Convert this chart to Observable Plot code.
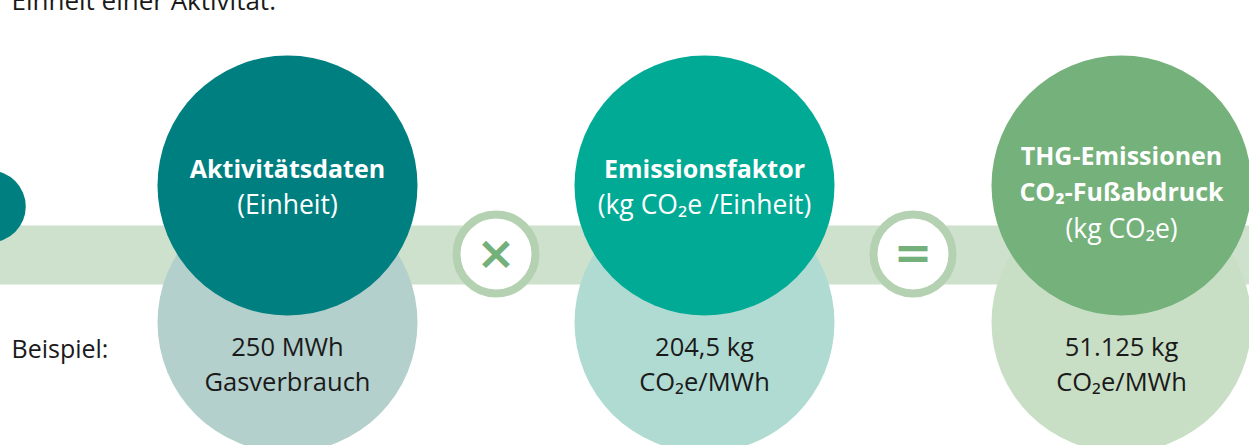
<!DOCTYPE html>
<html><head><meta charset="utf-8">
<script src="https://cdn.jsdelivr.net/npm/d3@7"></script>
<script src="https://cdn.jsdelivr.net/npm/@observablehq/plot@0.6"></script>
<style>
body{margin:0;background:#fff;}
#chart svg{display:block;}
</style></head><body><div id="chart"></div>
<script>
// ---- content ----
const intro = "Einheit einer Aktivität.";
const stepTitles = ["Aktivitätsdaten", "Emissionsfaktor", "THG-Emissionen"];
const stepSubtitles = ["", "", "CO₂-Fußabdruck"];
const stepUnits = ["(Einheit)", "(kg CO₂e /Einheit)", "(kg CO₂e)"];
const exampleLabel = "Beispiel:";
const exampleValues = ["250 MWh", "204,5 kg", "51.125 kg"];
const exampleUnits = ["Gasverbrauch", "CO₂e/MWh", "CO₂e/MWh"];
const operators = ["×", "="];

// ---- styles ----
const topFill = ["#007f80", "#00aa95", "#75b17a"];
const bottomFill = ["#b4d0cc", "#b0dbd3", "#c8dfc5"];
const bandColor = "#cee1cc";
const ringColor = "#b4d1b1";
const opColor = "#74b079";
const ink = "#1a1a1a";
const font = "'Open Sans', 'Noto Sans', sans-serif";

// ---- layout (scale domains) ----
const W = 1249, H = 445;
const x0 = 287, step = 417; // pixel of step 0 and step spacing
const xDomain = [(0 - x0) / step, (W - x0) / step];

const steps = stepTitles.map((t, i) => ({
  i, title: t, sub: stepSubtitles[i], unit: stepUnits[i],
  value: exampleValues[i], vunit: exampleUnits[i]
}));
const ops = operators.map((o, k) => ({i: k + 0.5, op: o}));
const lead = [{i: -0.714}];

const chart = Plot.plot({
  width: W, height: H, margin: 0,
  x: {domain: xDomain, range: [0, W], axis: null},
  y: {domain: [0, H], range: [0, H], axis: null},
  style: {fontFamily: font, background: "white"},
  marks: [
    Plot.ruleY([254.5], {stroke: bandColor, strokeWidth: 59}),
    Plot.dot(steps, {x: "i", y: 322, r: 130, fill: d => bottomFill[d.i]}),
    Plot.dot(steps, {x: "i", y: 185, r: 130, fill: d => topFill[d.i]}),
    Plot.dot(lead, {x: "i", y: 206, r: 36, fill: topFill[0]}),
    Plot.dot(ops, {x: "i", y: 253.5, r: 39.5, fill: "white", stroke: ringColor, strokeWidth: 8}),
    Plot.text(ops, {x: "i", y: 253.5, text: "op", fill: opColor, fontWeight: "bold",
      fontFamily: "DejaVu Sans", fontSize: d => d.op === "×" ? 47 : 46, lineAnchor: "middle"}),
    Plot.text(steps, {x: "i", y: d => d.sub ? 164 : 177, text: "title", fill: "white",
      fontWeight: "bold", fontSize: 25, lineAnchor: "bottom"}),
    Plot.text(steps.filter(d => d.sub), {x: "i", y: 200, text: "sub", fill: "white",
      fontWeight: "bold", fontSize: 25, lineAnchor: "bottom"}),
    Plot.text(steps, {x: "i", y: d => d.sub ? 237 : 213, text: "unit", fill: "white",
      fontSize: 26.5, lineAnchor: "bottom"}),
    Plot.text(steps, {x: "i", y: 355, text: "value", fill: ink, fontSize: 25.5, lineAnchor: "bottom"}),
    Plot.text(steps, {x: "i", y: 390, text: "vunit", fill: ink, fontSize: 25.5, lineAnchor: "bottom"}),
    Plot.text([exampleLabel], {frameAnchor: "left", y: 357, dx: 11, text: d => d, fill: ink,
      fontSize: 25, textAnchor: "start", lineAnchor: "bottom"}),
    Plot.text([intro], {frameAnchor: "top-left", dx: 11, dy: 9, text: d => d, fill: ink,
      fontSize: 26, textAnchor: "start", lineAnchor: "bottom"})
  ]
});
document.getElementById("chart").append(chart);
</script></body></html>
